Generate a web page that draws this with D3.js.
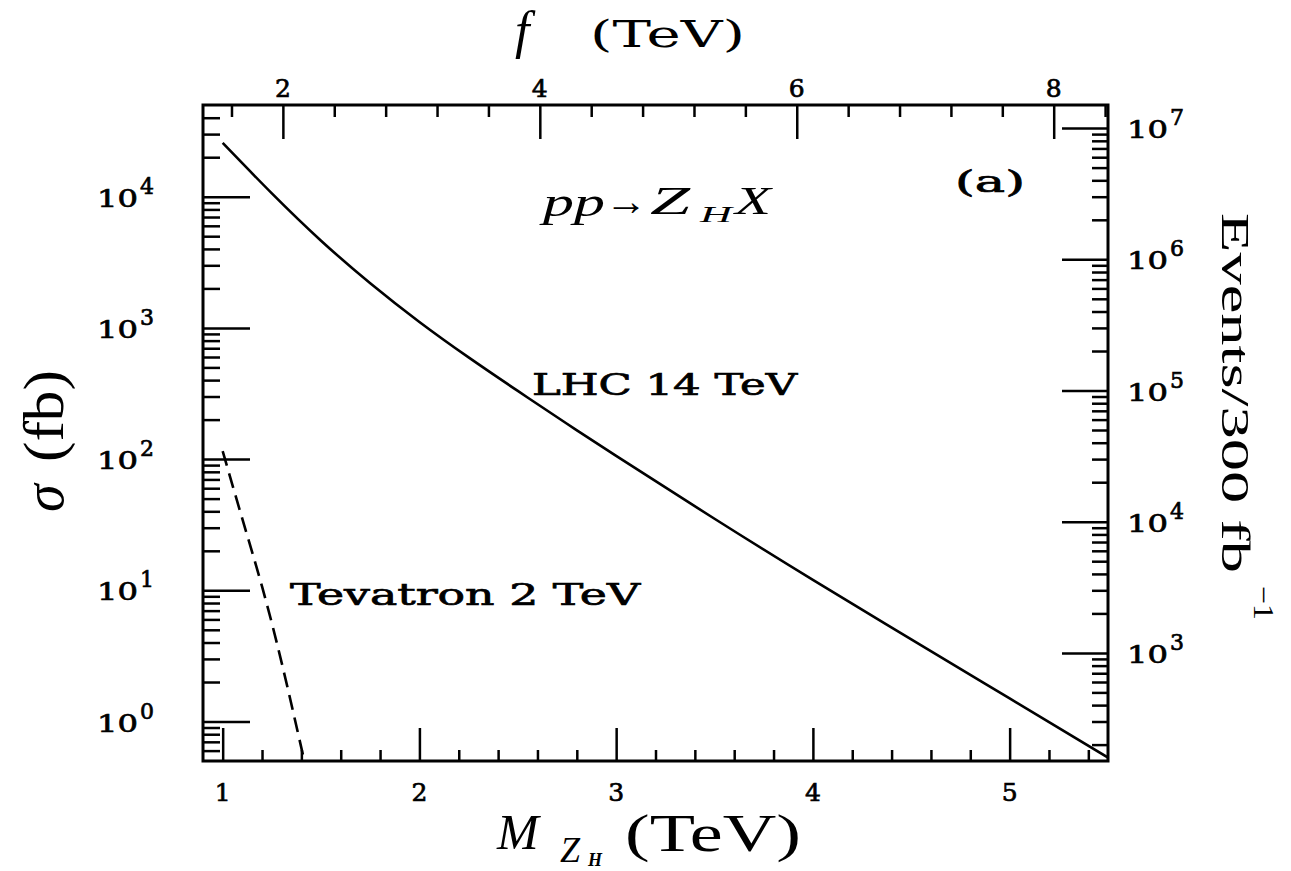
<!DOCTYPE html>
<html>
<head>
<meta charset="utf-8">
<script src="https://cdn.jsdelivr.net/npm/d3@7"></script>
<style>
  body { margin: 0; background: #fff; }
  svg { display: block; }
  .num { font-family: "DejaVu Serif", serif; fill: #000; stroke: #000; stroke-width: 0.7px; }
  .times { font-family: "Liberation Serif", "Times New Roman", serif; fill: #000; }
  .slab { font-family: "DejaVu Serif", serif; fill: #000; }
</style>
</head>
<body>
<svg id="chart" width="1291" height="871"></svg>
<script>
// Z_H production cross sections vs. heavy gauge boson mass
const lhcMass  = [1.0, 1.25, 1.5, 1.75, 2.0, 2.25, 2.5, 2.75, 3.0, 3.5, 4.0, 4.5, 5.0, 5.5];
const lhcSigma = [25700, 10600, 4620, 2190, 1110, 596, 331, 186, 106, 35.1, 12.0, 4.22, 1.50, 0.531];
const tevMass  = [1.0, 1.1, 1.2, 1.3, 1.41];
const tevSigma = [115, 35, 10.7, 2.8, 0.54];

const massTicks = [1, 2, 3, 4, 5];
const fTicks = [2, 4, 6, 8];
const sigmaDecades = [0, 1, 2, 3, 4];
const eventDecades = [3, 4, 5, 6, 7];
const lumi = 300;          // fb^-1
const massPerF = 0.653;    // M_ZH / f

const plot = { left: 203, right: 1108, top: 105, bottom: 761 };

const svg = d3.select("#chart");

const x = d3.scaleLinear().domain([0.9, 5.5]).range([plot.left, plot.right]);
const xf = d3.scaleLinear().domain([0.9 / massPerF, 5.5 / massPerF]).range([plot.left, plot.right]);
const y = d3.scaleLog().domain([0.5, 5e4]).range([plot.bottom, plot.top]);
const yEv = d3.scaleLog().domain([0.5 * lumi, 5e4 * lumi]).range([plot.bottom, plot.top]);

const near = (a, b) => Math.abs(a - b) < 1e-6;
function logMinors(scale) {
  const [lo, hi] = scale.domain();
  const out = [];
  for (let d = Math.floor(Math.log10(lo)); d <= Math.ceil(Math.log10(hi)); d++) {
    for (let k = 2; k <= 9; k++) {
      const v = k * Math.pow(10, d);
      if (v > lo * 1.001 && v < hi * 0.999) out.push(v);
    }
  }
  return out;
}
const massMinor = d3.range(1.2, 5.45, 0.2).filter(v => !massTicks.some(t => near(t, v)));
const fMinor = d3.range(1.6, 8.45, 0.4).filter(v => !fTicks.some(t => near(t, v)));

function drawTicks(axis, transform) {
  const g = svg.append("g").attr("transform", transform).call(axis);
  g.select(".domain").remove();
  g.selectAll("text").remove();
  g.selectAll("line").attr("stroke", "#000").attr("stroke-width", 2.5);
}
// bottom (M_ZH)
drawTicks(d3.axisBottom(x).tickValues(massTicks).tickSize(-33), `translate(0,${plot.bottom})`);
drawTicks(d3.axisBottom(x).tickValues(massMinor).tickSize(-11), `translate(0,${plot.bottom})`);
// top (f)
drawTicks(d3.axisTop(xf).tickValues(fTicks).tickSize(-34), `translate(0,${plot.top})`);
drawTicks(d3.axisTop(xf).tickValues(fMinor).tickSize(-12), `translate(0,${plot.top})`);
// left (sigma)
drawTicks(d3.axisLeft(y).tickValues(sigmaDecades.map(n => Math.pow(10, n))).tickSize(-47), `translate(${plot.left},0)`);
drawTicks(d3.axisLeft(y).tickValues(logMinors(y)).tickSize(-17), `translate(${plot.left},0)`);
// right (events)
drawTicks(d3.axisRight(yEv).tickValues(eventDecades.map(n => Math.pow(10, n))).tickSize(-46), `translate(${plot.right},0)`);
drawTicks(d3.axisRight(yEv).tickValues(logMinors(yEv)).tickSize(-16), `translate(${plot.right},0)`);

// frame
svg.append("rect")
  .attr("x", plot.left).attr("y", plot.top)
  .attr("width", plot.right - plot.left).attr("height", plot.bottom - plot.top)
  .attr("fill", "none").attr("stroke", "#000").attr("stroke-width", 3);

// curves
svg.append("clipPath").attr("id", "plotClip").append("rect")
  .attr("x", plot.left).attr("y", plot.top)
  .attr("width", plot.right - plot.left).attr("height", plot.bottom - plot.top);

const line = d3.line().x(d => x(d[0])).y(d => y(d[1])).curve(d3.curveNatural);
svg.append("path")
  .attr("clip-path", "url(#plotClip)")
  .attr("d", line(d3.zip(lhcMass, lhcSigma)))
  .attr("fill", "none").attr("stroke", "#000").attr("stroke-width", 2.6);
svg.append("path")
  .attr("clip-path", "url(#plotClip)")
  .attr("d", line(d3.zip(tevMass, tevSigma)))
  .attr("fill", "none").attr("stroke", "#000").attr("stroke-width", 2.6)
  .attr("stroke-dasharray", "15,8");

// power-of-ten labels
function powLabel(xStart, yPos, exp) {
  svg.append("text").attr("class", "num")
    .attr("x", xStart).attr("y", yPos + 10)
    .attr("font-size", 25).attr("textLength", 41).attr("lengthAdjust", "spacingAndGlyphs")
    .text("10");
  svg.append("text").attr("class", "num")
    .attr("x", xStart + 43).attr("y", yPos - 3)
    .attr("font-size", 22)
    .text(exp);
}
sigmaDecades.forEach(n => powLabel(97, y(Math.pow(10, n)), n));
eventDecades.forEach(n => powLabel(1127, yEv(Math.pow(10, n)), n));

// linear tick labels
svg.selectAll(".mlab").data(massTicks).join("text").attr("class", "num")
  .attr("x", d => x(d)).attr("y", 801).attr("text-anchor", "middle")
  .attr("font-size", 25).text(d => d);
svg.selectAll(".flab").data(fTicks).join("text").attr("class", "num")
  .attr("x", d => xf(d)).attr("y", 97).attr("text-anchor", "middle")
  .attr("font-size", 25).text(d => d);

// axis titles
// bottom: M_{Z_H} (TeV)
svg.append("text").attr("class", "times").attr("x", 497).attr("y", 849)
  .attr("font-size", 50).attr("font-style", "italic").text("M");
svg.append("text").attr("class", "times").attr("x", 560).attr("y", 862)
  .attr("font-size", 36).attr("font-style", "italic").text("Z");
svg.append("text").attr("class", "times").attr("x", 588).attr("y", 866)
  .attr("font-size", 18).attr("font-style", "italic").attr("font-weight", "bold").text("H");
svg.append("text").attr("class", "times").attr("x", 625).attr("y", 851)
  .attr("font-size", 52).attr("textLength", 176).attr("lengthAdjust", "spacingAndGlyphs").text("(TeV)");

// top: f (TeV)
svg.append("text").attr("class", "times").attr("x", 515).attr("y", 48)
  .attr("font-size", 52).attr("font-style", "italic").text("f");
svg.append("text").attr("class", "slab").attr("x", 590).attr("y", 47)
  .attr("font-size", 38).attr("textLength", 155).attr("lengthAdjust", "spacingAndGlyphs").text("(TeV)");

// left: sigma (fb)
svg.append("text").attr("class", "times")
  .attr("transform", "translate(63,512) rotate(-90)").attr("font-size", 56)
  .attr("font-style", "italic").text("σ");
svg.append("text").attr("class", "times")
  .attr("transform", "translate(63,462) rotate(-90)").attr("font-size", 56)
  .attr("textLength", 92).attr("lengthAdjust", "spacingAndGlyphs").text("(fb)");

// right: Events/300 fb^-1
svg.append("text").attr("class", "times")
  .attr("transform", "translate(1222,213) rotate(90)").attr("font-size", 39)
  .attr("textLength", 360).attr("lengthAdjust", "spacingAndGlyphs")
  .text(`Events/${lumi} fb`);
svg.append("text").attr("class", "times")
  .attr("transform", "translate(1254,586) rotate(90)").attr("font-size", 29)
  .attr("textLength", 34).attr("lengthAdjust", "spacingAndGlyphs").text("−1");

// in-plot annotations
svg.append("text").attr("class", "num").attr("x", 955).attr("y", 192)
  .attr("font-size", 30).attr("textLength", 70).attr("lengthAdjust", "spacingAndGlyphs").text("(a)");

// pp -> Z_H X
const procParts = [
  { t: "pp", x: 543, y: 216, size: 41, len: 62, italic: true },
  { t: "→",  x: 605, y: 215, size: 40, len: 42, italic: false },
  { t: "Z",  x: 650, y: 214, size: 41, len: 40, italic: true },
  { t: "H",  x: 700, y: 222, size: 24, len: 32, italic: true },
  { t: "X",  x: 735, y: 214, size: 41, len: 36, italic: true }
];
svg.selectAll(".proc").data(procParts).join("text").attr("class", "times")
  .attr("x", d => d.x).attr("y", d => d.y).attr("font-size", d => d.size)
  .attr("font-style", d => d.italic ? "italic" : "normal")
  .attr("textLength", d => d.len).attr("lengthAdjust", "spacingAndGlyphs")
  .text(d => d.t);

svg.append("text").attr("class", "num").attr("x", 532).attr("y", 395)
  .attr("font-size", 30).attr("textLength", 265).attr("lengthAdjust", "spacingAndGlyphs").text("LHC 14 TeV");
svg.append("text").attr("class", "num").attr("x", 290).attr("y", 605)
  .attr("font-size", 30).attr("textLength", 350).attr("lengthAdjust", "spacingAndGlyphs").text("Tevatron 2 TeV");
</script>
</body>
</html>
